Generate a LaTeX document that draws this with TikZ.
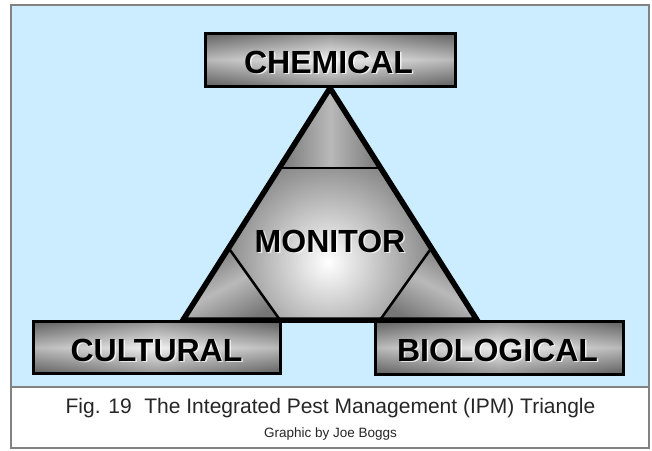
\documentclass[tikz,border=0pt]{standalone}
\usepackage{fontspec}
\setmainfont{Liberation Sans}
\usetikzlibrary{calc}
\definecolor{skyblue}{RGB}{204,236,255}
\definecolor{framegray}{RGB}{130,130,130}
\definecolor{boxdark}{RGB}{105,105,105}
\definecolor{boxlight}{RGB}{232,232,232}
\definecolor{cornergray}{RGB}{118,118,118}
\definecolor{cornerlight}{RGB}{185,185,185}
\definecolor{hexgray}{RGB}{125,125,125}
\begin{document}
\begin{tikzpicture}[x=1pt,y=-1pt,
  box/.style={draw=black, line width=3pt, rectangle, inner sep=0pt,
    shading=axis, top color=boxdark, bottom color=boxdark, middle color=boxlight,
    path picture={\shade[left color=black!70, right color=black!70, middle color=white, fill opacity=0.3]
      (path picture bounding box.south west) rectangle (path picture bounding box.north east);}},
  lbl/.style={font=\fontsize{32}{36}\selectfont\bfseries, anchor=base, inner sep=0pt, text=black},
  lblshadow/.style={lbl, text=white, opacity=0.75},
  corner/.style={shading=axis, left color=cornergray, right color=cornergray, middle color=cornerlight},
  innerline/.style={draw=black, line width=2.5pt},
  outerline/.style={draw=black, line width=5.5pt, line join=miter},
  caption/.style={anchor=base, inner sep=0pt, text=black!85}
]
\useasboundingbox (0,0) rectangle (652,450);
\fill[white] (0,0) rectangle (652,450);
% panel
\fill[skyblue] (11,5) rectangle (649,387);
\draw[framegray, line width=1.2pt] (11,387) -- (649,387);
\draw[framegray, line width=1.8pt] (11,5) rectangle (649,448);

% triangle geometry
\coordinate (A) at (330,88);
\coordinate (B) at (183,320);
\coordinate (C) at (477,320);
\coordinate (P1) at (279.3,168);
\coordinate (P2) at (380.7,168);
\coordinate (P3) at (431.4,248);
\coordinate (P4) at (380,320);
\coordinate (P5) at (280,320);
\coordinate (P6) at (228.6,248);

% corner pieces
\path[corner] (A) -- (P1) -- (P2) -- cycle;
\path[corner, shading angle=28] (B) -- (P5) -- (P6) -- cycle;
\path[corner, shading angle=-28] (C) -- (P3) -- (P4) -- cycle;
% hexagon
\path[path picture={\shade[inner color=white, outer color=hexgray] (328,262) circle (115pt);}]
  (P1) -- (P2) -- (P3) -- (P4) -- (P5) -- (P6) -- cycle;
% inner dividing lines
\draw[innerline] (P1) -- (P2);
\draw[innerline] (P6) -- (P5);
\draw[innerline] (P3) -- (P4);
% outer triangle
\draw[outerline] (A) -- (B) -- (C) -- cycle;

% boxes
\node[box, minimum width=250pt, minimum height=53pt] (chem) at (330,59.5) {};
\node[box, minimum width=247pt, minimum height=52pt] (cult) at (156.5,347.5) {};
\node[box, minimum width=248pt, minimum height=53pt] (bio) at (499,347.5) {};

% labels
\node[lblshadow] (chemsh) at (330,74.5) {CHEMICAL};
\node[lbl] (chemtxt) at (328.5,73) {CHEMICAL};
\node[lblshadow] (cultsh) at (158,362.5) {CULTURAL};
\node[lbl] (culttxt) at (156.5,361) {CULTURAL};
\node[lblshadow] (biosh) at (499,362.5) {BIOLOGICAL};
\node[lbl] (biotxt) at (497.5,361) {BIOLOGICAL};
\node[lblshadow] (monsh) at (331.5,253.5) {MONITOR};
\node[lbl] (montxt) at (330,252) {MONITOR};

% caption
\node[caption, font=\fontsize{21}{24}\selectfont] (cap) at (330.5,413)
  {Fig. 19\hspace{0.6em}The Integrated Pest Management (IPM) Triangle};
\node[caption, font=\fontsize{13.5}{16}\selectfont] (credit) at (330.5,437) {Graphic by Joe Boggs};
\end{tikzpicture}
\end{document}
